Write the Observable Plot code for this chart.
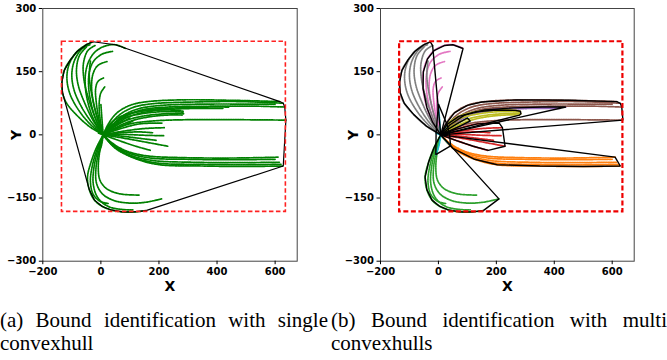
<!DOCTYPE html>
<html><head><meta charset="utf-8">
<script src="https://cdn.jsdelivr.net/npm/d3@7"></script>
<script src="https://cdn.jsdelivr.net/npm/@observablehq/plot@0.6"></script>
<style>
body{margin:0;background:#fff;width:667px;height:360px;position:relative;overflow:hidden}
#a{position:absolute;left:0;top:0}
#b{position:absolute;left:330px;top:0}
.cap{position:absolute;top:309px;font-family:"Liberation Serif","Times New Roman",serif;font-size:21px;line-height:23.4px;text-align:justify;color:#000}
</style></head><body>
<div id="a"></div><div id="b"></div>
<div class="cap" style="left:0;width:328px">(a) Bound identification with single convexhull</div>
<div class="cap" style="left:331px;width:336px">(b) Bound identification with multi convexhulls</div>
<script>
const xTicks = [-200, 0, 200, 400, 600];
const yTicks = [-300, -150, 0, 150, 300];
const xDomain = [-200, 676];
const yDomain = [-300, 300];
const clusterNames = ["c0","c1","c2","c3","c4","c5","c6","c7","c8","c9"];
const clusterColors = ["#1f77b4","#ff7f0e","#2ca02c","#d62728","#9467bd","#8c564b","#e377c2","#7f7f7f","#bcbd22","#17becf"];

const blueTracks = [
  [[8,0],[35,14],[68,28],[100,40]],
  [[8,0],[40,10],[78,22],[110,33]]
];
const orangeTracks = [
  [[8,0],[40,-20],[90,-39],[160,-50],[280,-54],[450,-55],[610,-53]],
  [[8,0],[42,-23],[95,-43],[170,-55],[300,-58],[460,-59],[600,-58]],
  [[8,0],[45,-26],[100,-48],[180,-61],[310,-65],[470,-66],[615,-65]],
  [[8,0],[48,-29],[110,-53],[195,-67],[330,-70],[480,-71],[622,-70]],
  [[8,0],[50,-32],[125,-58],[203,-71],[350,-74],[500,-75],[628,-74]]
];
const greenTracks = [
  [[8,0],[-15,-30],[-34,-65],[-46,-100],[-40,-130],[-22,-155],[5,-170],[34,-178],[75,-183],[115,-183],[155,-180]],
  [[8,0],[-12,-32],[-30,-75],[-36,-112],[-26,-142],[-2,-158],[25,-163]],
  [[8,0],[-6,-35],[-17,-80],[-15,-115],[5,-140],[45,-156],[100,-162],[155,-160],[209,-152]],
  [[8,0],[-3,-35],[-9,-78],[-3,-108],[20,-128],[65,-140],[134,-143]],
  [[8,0],[-9,-33],[-24,-78],[-26,-118],[-10,-150],[25,-170],[70,-177],[110,-178]]
];
const redTracks = [
  [[8,0],[60,13],[134,26],[210,28]],
  [[8,0],[80,9],[150,15],[221,17]],
  [[8,0],[80,1],[150,-1],[216,-2]],
  [[8,0],[80,-8],[160,-18],[230,-27]],
  [[8,0],[60,-13],[120,-27],[172,-37]],
  [[8,0],[70,-3],[130,-8],[190,-13]],
  [[8,0],[70,5],[130,7],[178,5]]
];
const purpleTracks = [
  [[8,0],[40,24],[90,47],[160,59],[260,64],[360,66],[440,66]],
  [[8,0],[45,21],[100,44],[180,57],[280,62],[420,63]]
];
const brownTracks = [
  [[8,0],[25,25],[55,52],[100,70],[150,78],[270,83],[450,82],[616,79]],
  [[8,0],[30,22],[65,48],[115,66],[180,74],[320,78],[480,79],[628,75]],
  [[8,0],[35,20],[75,45],[130,62],[210,70],[360,73],[520,73],[600,73]],
  [[8,0],[38,18],[80,42],[140,59],[230,66],[380,68],[540,68],[633,66]],
  [[8,0],[40,12],[100,26],[180,33],[300,36],[470,36],[637,35]]
];
const pinkTracks = [
  [[8,0],[-20,30],[-40,65],[-53,110],[-52,150],[-38,180],[-15,200],[20,212],[50,214],[85,205]],
  [[8,0],[-15,32],[-32,70],[-42,112],[-40,148],[-25,175],[5,192],[40,198]],
  [[8,0],[-10,35],[-25,75],[-32,112],[-27,145],[-10,165],[21,174]],
  [[8,0],[-6,35],[-16,78],[-18,110],[-10,127],[9,135]],
  [[8,0],[-2,35],[-6,72],[0,100],[15,115]]
];
const grayTracks = [
  [[8,0],[-40,20],[-85,48],[-118,75],[-132,100],[-134,125],[-126,153],[-105,178],[-70,204],[-28,221]],
  [[8,0],[-35,24],[-78,60],[-108,100],[-117,138],[-108,170],[-82,198],[-48,215]],
  [[8,0],[-30,28],[-68,68],[-93,108],[-100,145],[-90,178],[-65,204],[-38,214]],
  [[8,0],[-25,32],[-56,76],[-78,118],[-84,155],[-74,188],[-50,208]],
  [[8,0],[-18,38],[-42,85],[-58,130],[-60,170],[-45,200],[-20,212]],
  [[8,0],[-12,40],[-30,90],[-40,140],[-36,175]]
];
const oliveTracks = [
  [[8,0],[30,25],[70,44],[130,55],[200,59],[265,58],[283,56]],
  [[8,0],[35,22],[80,40],[140,50],[210,55],[283,54]],
  [[8,0],[40,18],[90,35],[150,45],[220,50],[285,50]],
  [[8,0],[45,15],[100,32],[160,42],[230,47],[280,47]]
];
const cyanTracks = [
  [[8,0],[4,35],[0,73]],
  [[8,0],[2,-25],[-9,-47]],
  [[8,0],[25,-14],[42,-26]],
  [[8,0],[24,2],[38,3]],
  [[8,0],[0,2],[-8,4]],
  [[8,0],[20,14],[30,24]]
];
const trackSets = [blueTracks, orangeTracks, greenTracks, redTracks, purpleTracks,
                   brownTracks, pinkTracks, grayTracks, oliveTracks, cyanTracks];

const rows = [];
trackSets.forEach((set, ci) => set.forEach((tr, ti) => tr.forEach(([x, y]) =>
  rows.push({x, y, cluster: clusterNames[ci], id: ci + "-" + ti}))));
const box = [{
  x1: d3.min(rows, d => d.x), x2: d3.max(rows, d => d.x),
  y1: d3.min(rows, d => d.y), y2: d3.max(rows, d => d.y)
}];

function panel(multi, opts) {
  const svg = Plot.plot({
    width: opts.width, height: 300,
    marginLeft: opts.ml, marginRight: opts.mr, marginTop: 8, marginBottom: 39.3,
    style: {fontFamily: "'DejaVu Sans', sans-serif", fontWeight: "bold", fontSize: "10px", color: "#000", background: "#fff"},
    x: {domain: xDomain, ticks: xTicks},
    y: {domain: yDomain, ticks: yTicks},
    color: {domain: clusterNames, range: clusterColors},
    marks: [
      Plot.line(rows, {x: "x", y: "y", z: "id", stroke: multi ? "cluster" : "green",
        strokeWidth: 1.7, strokeDasharray: "1.5,0.9", curve: "catmull-rom"}),
      Plot.hull(rows, {x: "x", y: "y", z: multi ? "cluster" : null, fill: "none", stroke: "#000",
        strokeWidth: multi ? 1.4 : 1.2}),
      Plot.rect(box, {x1: "x1", x2: "x2", y1: "y1", y2: "y2", fill: "none",
        stroke: multi ? "#ee0000" : "#ff2222", strokeWidth: multi ? 2.2 : 1.6,
        strokeDasharray: multi ? "5,2.5" : "4.5,2.5"}),
      Plot.frame({stroke: "#444", strokeWidth: 1}),
      Plot.axisX({ticks: xTicks, tickSize: 3.5, tickPadding: 3, label: "X", labelAnchor: "center", labelArrow: "none", labelOffset: 30}),
      Plot.axisY({ticks: yTicks, tickSize: 3.5, tickPadding: 3, label: "Y", labelAnchor: "center", labelArrow: "none", labelOffset: 32})
    ]
  });
  svg.querySelectorAll('[aria-label$="axis label"] text, [aria-label$="axis label"]').forEach(t => {
    t.setAttribute("font-size", "14");
  });
  return svg;
}
document.getElementById("a").append(panel(false, {width: 330, ml: 42.3, mr: 33.3}));
document.getElementById("b").append(panel(true, {width: 337, ml: 50, mr: 33.3}));
</script>
</body></html>
